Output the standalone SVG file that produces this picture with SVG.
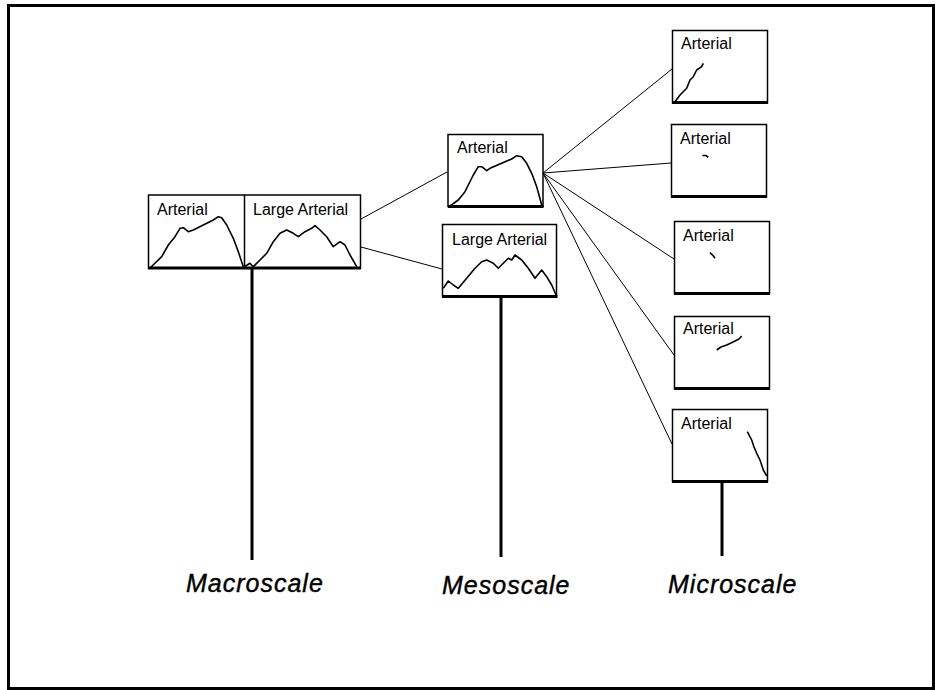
<svg xmlns="http://www.w3.org/2000/svg" width="935" height="690" viewBox="0 0 935 690">
<style>
.box{fill:#fff;stroke:#000;stroke-width:1.5}
.base{stroke:#000;stroke-width:3}
.wave{fill:none;stroke:#000;stroke-width:1.6;stroke-linejoin:round}
.lbl{font-family:"Liberation Sans",Arial,sans-serif;font-size:16px;fill:#000}
.scale{font-family:"Liberation Sans",Arial,sans-serif;font-size:25px;font-style:italic;letter-spacing:1px;fill:#000;stroke:#000;stroke-width:0.4}
.conn{stroke:#000;stroke-width:1;fill:none}
.stem{stroke:#000;stroke-width:3}
</style>
<rect x="0" y="0" width="935" height="690" fill="#fff"/>
<rect x="8.5" y="5.5" width="925" height="683" fill="none" stroke="#000" stroke-width="3"/>
<g id="connectors">
<line class="conn" x1="361" y1="219" x2="447" y2="172"/>
<line class="conn" x1="361" y1="247" x2="442" y2="269"/>
<line class="conn" x1="543" y1="173" x2="672" y2="69"/>
<line class="conn" x1="543" y1="173" x2="671" y2="163"/>
<line class="conn" x1="543" y1="173" x2="674" y2="259"/>
<line class="conn" x1="543" y1="173" x2="674" y2="355"/>
<line class="conn" x1="543" y1="173" x2="672" y2="444"/>
<line class="stem" x1="252" y1="269" x2="252" y2="560"/>
<line class="stem" x1="501" y1="298" x2="501" y2="557"/>
<line class="stem" x1="722" y1="482" x2="722" y2="556"/>
</g>
<g id="macro">
<rect class="box" x="148.5" y="195" width="212" height="73"/>
<line x1="244.5" y1="195" x2="244.5" y2="268" stroke="#000" stroke-width="1.5"/>
<line class="base" x1="148" y1="268" x2="361" y2="268"/>
<text class="lbl" x="157" y="215">Arterial</text>
<text class="lbl" x="253" y="215">Large Arterial</text>
<polyline class="wave" points="150,268 161.7,256.7 168.3,245 175,236.7 180,228.3 183.3,227.7 188.3,231.7 193.3,230 203.3,225 213.3,220 218.3,216.7 221.7,217.7 226.7,225 233.3,238.3 238.3,251.7 243.3,266.7"/>
<polyline class="wave" points="244.3,266.7 250,263.3 253.3,266.7 260,260 266.7,253.3 273.3,241.7 280,233.3 286.7,230 293.3,233.3 298.3,236.7 305,231.7 308.3,230 311.7,228.3 315,225.7 320,230 326.7,236.7 333.3,246.7 340,241.7 345,245 350,255 356.7,266.7"/>
</g>
<g id="meso-arterial">
<rect class="box" x="448" y="134.5" width="95" height="72"/>
<line class="base" x1="448" y1="206.5" x2="543.5" y2="206.5"/>
<text class="lbl" x="457" y="153">Arterial</text>
<polyline class="wave" points="450,206 458.3,200 465,191.7 468.3,185 473.3,175 478.3,166.7 481.7,166.7 486.7,170.7 490,168.3 501.7,163.3 511.7,159 516.7,155.7 521.7,156.7 526.7,163.3 531.7,173.3 536.7,186.7 541.7,205"/>
</g>
<g id="meso-large">
<rect class="box" x="442.5" y="224.5" width="114" height="72"/>
<line class="base" x1="442" y1="296.5" x2="557.5" y2="296.5"/>
<text class="lbl" x="452" y="245">Large Arterial</text>
<polyline class="wave" points="443.3,288.3 448.3,281 453.3,285 458.3,288.3 466.7,278.3 475,268.3 481.7,261.7 486.7,260 493.3,263.3 498.3,268.3 503.3,263.3 508.3,258.3 511.7,260 515,255 521.7,260 528.3,268.3 535,278.3 541.7,270 546.7,276.7 551.7,285 556,295"/>
</g>
<g id="micro-1">
<rect class="box" x="672.5" y="30.5" width="95" height="72"/>
<line class="base" x1="672" y1="102.5" x2="768" y2="102.5"/>
<text class="lbl" x="681" y="49">Arterial</text>
<polyline class="wave" points="675,101.7 680,95 686.7,88.3 690,80 693.3,76.7 696.7,70 701.7,66.7 703.3,63.3"/>
</g>
<g id="micro-2">
<rect class="box" x="671.5" y="124.5" width="95" height="72"/>
<line class="base" x1="671" y1="196.5" x2="767" y2="196.5"/>
<text class="lbl" x="680" y="144">Arterial</text>
<polyline class="wave" points="702.3,155.5 706,155.5 708.3,157.3"/>
</g>
<g id="micro-3">
<rect class="box" x="674.5" y="221.5" width="95" height="72"/>
<line class="base" x1="674" y1="293.5" x2="770" y2="293.5"/>
<text class="lbl" x="683" y="241">Arterial</text>
<polyline class="wave" points="710,252.7 713,255.5 715,258.3"/>
</g>
<g id="micro-4">
<rect class="box" x="674.5" y="316.5" width="95" height="72"/>
<line class="base" x1="674" y1="388.5" x2="770" y2="388.5"/>
<text class="lbl" x="683" y="334">Arterial</text>
<polyline class="wave" points="716.7,350 721,347 726.7,345 731,343 735,341 739,339 741.7,336"/>
</g>
<g id="micro-5">
<rect class="box" x="672.5" y="409.5" width="95" height="72"/>
<line class="base" x1="672" y1="481.5" x2="768" y2="481.5"/>
<text class="lbl" x="681" y="429">Arterial</text>
<polyline class="wave" points="747.3,431.7 751.7,440 754,447 756.7,453.3 760,460 763.3,470 766.7,476"/>
</g>
<g id="labels">
<text class="scale" x="186" y="592">Macroscale</text>
<text class="scale" x="442" y="594">Mesoscale</text>
<text class="scale" x="668" y="593">Microscale</text>
</g>
</svg>
